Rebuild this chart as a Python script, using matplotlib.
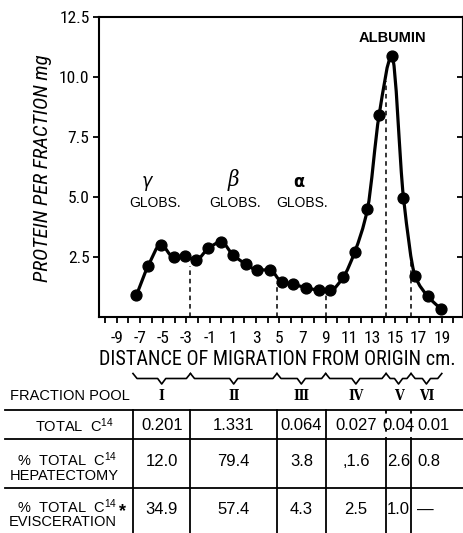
"""Serum protein electrophoresis profile with the C14 distribution per fraction pool."""

import matplotlib

matplotlib.use("Agg")

import matplotlib.pyplot as plt
import matplotlib.transforms as mtransforms
import numpy as np
from matplotlib.patches import PathPatch
from matplotlib.path import Path

# protein per fraction along the strip
distance_cm = [-7.3, -6.3, -5.2, -4.1, -3.1, -2.2, -1.1, 0.0, 1.0, 2.1, 3.1, 4.2, 5.2,
               6.2, 7.3, 8.4, 9.4, 10.5, 11.5, 12.6, 13.6, 14.7, 15.7, 16.7, 17.8, 18.9]
protein_mg = [0.9, 2.1, 3.0, 2.48, 2.52, 2.35, 2.85, 3.12, 2.58, 2.2, 1.95, 1.95, 1.45,
              1.35, 1.21, 1.11, 1.1, 1.64, 2.7, 4.49, 8.4, 10.86, 4.96, 1.7, 0.85, 0.33]

# pooled fractions: cut points along the strip and height of each cut marker
pool_edges = [-7.6, -2.65, 4.8, 9.0, 14.2, 16.35, 19.0]
cut_tops = [2.1, 1.4, 0.95, 9.8, 2.4]
pool_names = ["Ⅰ", "Ⅱ", "Ⅲ", "Ⅳ", "Ⅴ", "Ⅵ"]

total_c14 = ["0.201", "1.331", "0.064", "0.027", "0.04", "0.01"]
pct_hepatectomy = ["12.0", "79.4", "3.8", ",1.6", "2.6", "0.8"]
pct_evisceration = ["34.9", "57.4", "4.3", "2.5", "1.0", "—"]

x_ticks = list(range(-9, 20, 2))
y_ticks = [2.5, 5.0, 7.5, 10.0, 12.5]

W, H = 464, 533
NARROW = ["Roboto Condensed", "DejaVu Sans"]
SANS = ["Liberation Sans", "DejaVu Sans"]

plt.rcParams["font.family"] = NARROW
plt.rcParams["font.stretch"] = "condensed"
plt.rcParams["mathtext.default"] = "regular"
plt.rcParams["axes.unicode_minus"] = False


def fy(py):
    """Pixel row (from top) to figure fraction."""
    return 1 - py / H


def smooth_path(x, y):
    """Monotone cubic through the points, as a bezier path."""
    x = np.asarray(x, float)
    y = np.asarray(y, float)
    h = np.diff(x)
    d = np.diff(y) / h
    m = np.zeros_like(y)
    m[0], m[-1] = d[0], d[-1]
    for i in range(1, len(x) - 1):
        if d[i - 1] * d[i] > 0:
            w1 = 2 * h[i] + h[i - 1]
            w2 = h[i] + 2 * h[i - 1]
            m[i] = (w1 + w2) / (w1 / d[i - 1] + w2 / d[i])
    verts = [(x[0], y[0])]
    codes = [Path.MOVETO]
    for i in range(len(x) - 1):
        verts += [(x[i] + h[i] / 3, y[i] + m[i] * h[i] / 3),
                  (x[i + 1] - h[i] / 3, y[i + 1] - m[i + 1] * h[i] / 3),
                  (x[i + 1], y[i + 1])]
        codes += [Path.CURVE4] * 3
    return Path(verts, codes)


fig = plt.figure(figsize=(W / 100, H / 100), dpi=100)
ax = fig.add_axes([99.3 / W, fy(316.7), (462.7 - 99.3) / W, 300 / H])
ax.set_xlim(-10.5, 20.8)
ax.set_ylim(0, 12.5)

ax.add_patch(PathPatch(smooth_path(distance_cm, protein_mg), fill=False, lw=2.3,
                       color="black", capstyle="round", joinstyle="round"))
ax.plot(distance_cm, protein_mg, "o", ms=7.8, color="black")
ax.vlines(pool_edges[1:-1], 0, cut_tops, colors="black", lw=1.1, linestyles=(0, (3, 2.5)))

# axes frame and ticks
for spine in ax.spines.values():
    spine.set_linewidth(1.5)
ax.set_xticks(x_ticks)
ax.set_xticks(range(-10, 21), minor=True)
ax.set_yticks(y_ticks)
ax.tick_params(axis="x", which="both", direction="out", length=4, width=1.3,
               labelsize=12.5, pad=6)
ax.tick_params(axis="y", direction="out", length=4, width=1.3, labelsize=12.5, pad=3)
right = ax.secondary_yaxis("right")
right.set_yticks(y_ticks[:-1])
right.tick_params(direction="in", length=4, width=1.3, labelright=False)
right.spines["right"].set_linewidth(1.5)

ax.set_xlabel("DISTANCE OF MIGRATION FROM ORIGIN cm.", fontsize=14.5, va="center")
ax.xaxis.set_label_coords(0.49, (316.7 - 359.5) / 300)
ax.set_ylabel("PROTEIN PER FRACTION mg", fontsize=15, style="italic", va="center")
ax.yaxis.set_label_coords((43 - 99.3) / 363.4, 0.5 + (166.7 - 168.5) / 300)

# peak labels
greek = dict(ha="center", va="center")
ax.text(-6.42, 5.63, "γ", family="DejaVu Sans", style="italic", fontsize=14, **greek)
ax.text(1.04, 5.7, "β", family="DejaVu Serif", style="italic", fontsize=16, **greek)
ax.text(6.71, 5.62, "α", family="DejaVu Sans", weight="bold", fontsize=13, **greek)
for gx in (-5.66, 1.22, 6.97):
    ax.text(gx, 4.74, "GLOBS.", ha="center", va="center", fontsize=10, family=SANS)
ax.text(14.73, 11.6, "ALBUMIN", ha="center", va="center", fontsize=10.5,
        weight="bold", family=SANS)

# fraction pool braces and table underneath
trans = mtransforms.blended_transform_factory(ax.transData, fig.transFigure)
line = dict(color="black", transform=trans, clip_on=False)
centers = [(a + b) / 2 for a, b in zip(pool_edges[:-1], pool_edges[1:])]
for a, b, c in zip(pool_edges[:-1], pool_edges[1:], centers):
    d = 0.35
    ax.plot([a, a + d, c - d, c, c + d, b - d, b],
            [fy(373.5), fy(378.5), fy(378.5), fy(384), fy(378.5), fy(378.5), fy(373.5)],
            lw=1.2, solid_joinstyle="round", **line)

fig.text(10 / W, fy(395.7), "FRACTION POOL", ha="left", va="center",
         fontsize=10.5, family=SANS)
for c, name in zip(centers, pool_names):
    ax.text(c, fy(395.7), name, ha="center", va="center", fontsize=10,
            weight="bold", family=["DejaVu Serif", "DejaVu Sans"], transform=trans)

for py in (410, 439, 488.3):
    fig.add_artist(plt.Line2D([5 / W, 1], [fy(py), fy(py)], color="black", lw=1.3))
for i, xe in enumerate(pool_edges[:-1]):
    if i >= 4:
        ax.plot([xe, xe], [fy(410), fy(439)], lw=1.3, ls=(0, (2, 3)), **line)
        ax.plot([xe, xe], [fy(439), 0], lw=1.3, **line)
    else:
        ax.plot([xe, xe], [fy(410), 0], lw=1.3, **line)

label = dict(ha="center", va="center", fontsize=10.5, family=SANS)
fig.text(75 / W, fy(425.5), "TOTAL  C$^{14}$", **label)
fig.text(67 / W, fy(460), "%  TOTAL  C$^{14}$", **label)
fig.text(64 / W, fy(476.5), "HEPATECTOMY", **label)
fig.text(67 / W, fy(506.7), "%  TOTAL  C$^{14}$", **label)
fig.text(62.5 / W, fy(521.7), "EVISCERATION", **label)
fig.text(123 / W, fy(512), "*", ha="center", va="center", fontsize=13,
         weight="bold", family=SANS)

rows = [(total_c14, 425.5), (pct_hepatectomy, 461.7), (pct_evisceration, 510)]
for values, py in rows:
    for i, (c, v) in enumerate(zip(centers, values)):
        if i == 5:
            ax.text(pool_edges[5] + 0.55, fy(py), v, ha="left", va="center",
                    fontsize=12, family=SANS, transform=trans)
        else:
            ax.text(c, fy(py), v, ha="center", va="center", fontsize=12,
                    family=SANS, transform=trans)

fig.savefig("out.png", dpi=100)
